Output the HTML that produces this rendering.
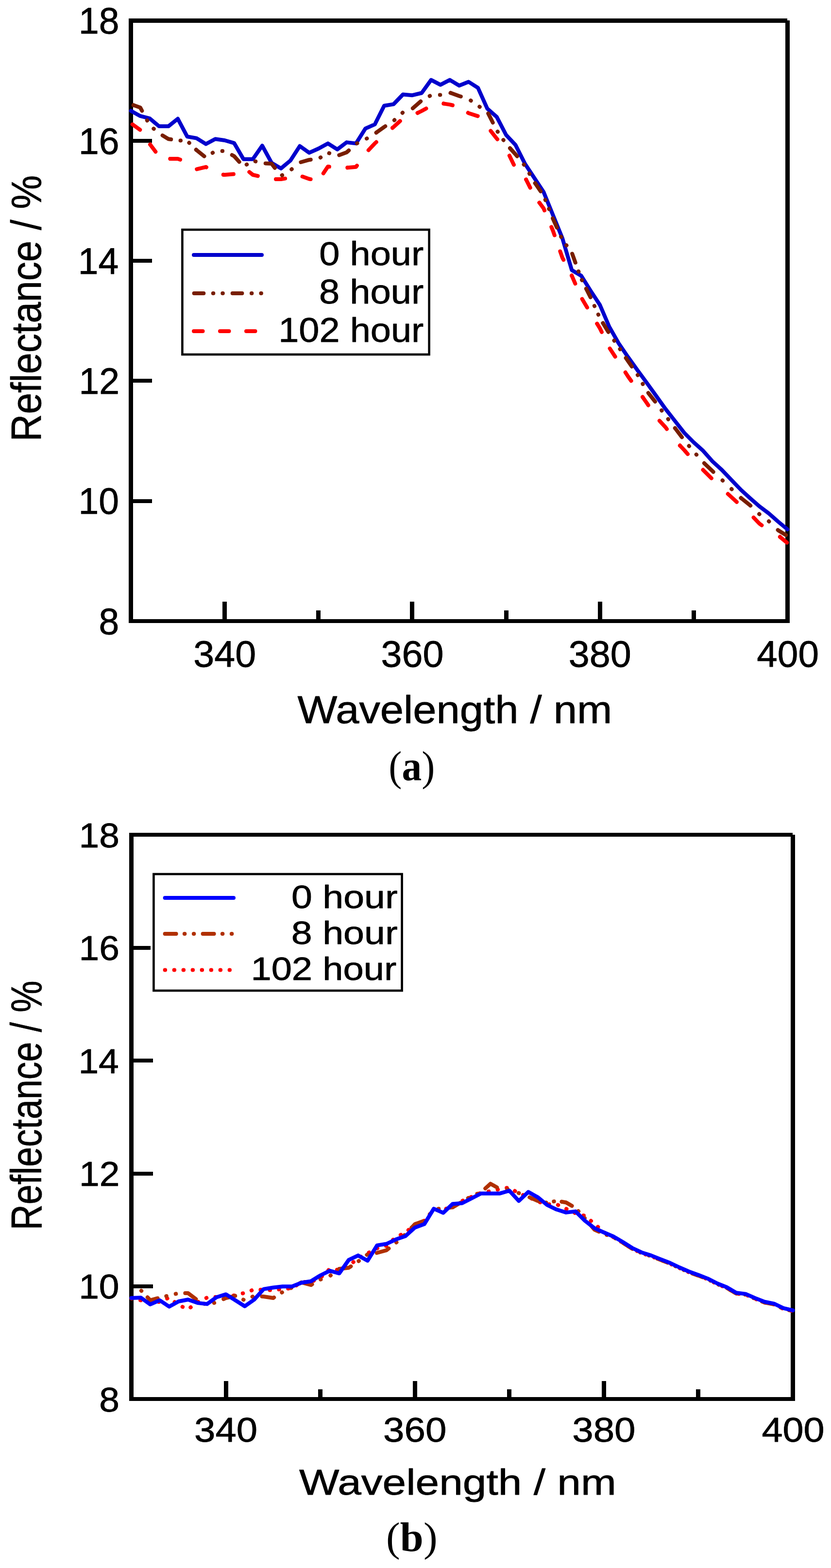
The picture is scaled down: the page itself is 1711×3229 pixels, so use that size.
<!DOCTYPE html><html><head><meta charset="utf-8"><title>Reflectance spectra</title><style>html,body{margin:0;padding:0;background:#fff;}svg{display:block;}text.s{stroke:#000;stroke-width:0.8px;stroke-linejoin:round;}</style></head><body>
<svg width="1711" height="3229" viewBox="0 0 1711 3229">
<rect width="1711" height="3229" fill="#fff"/>
<g fill="#000" shape-rendering="crispEdges">
<rect x="265" y="38" width="9" height="1245"/>
<rect x="265" y="38" width="1356" height="9"/>
<rect x="1617" y="42" width="9" height="1241"/>
<rect x="265" y="1275" width="1361" height="8"/>
<rect x="458.1" y="1239" width="9" height="36"/>
<rect x="844.4" y="1239" width="9" height="36"/>
<rect x="1230.7" y="1239" width="9" height="36"/>
<rect x="651.3" y="1257" width="9" height="18"/>
<rect x="1037.6" y="1257" width="9" height="18"/>
<rect x="1423.9" y="1257" width="9" height="18"/>
<rect x="274" y="1027.7" width="39" height="8"/>
<rect x="274" y="780.4" width="39" height="8"/>
<rect x="274" y="533.1" width="39" height="8"/>
<rect x="274" y="285.8" width="39" height="8"/>
</g>
<rect x="375.4" y="473.0" width="508.2" height="257.0" fill="none" stroke="#000" stroke-width="4.6"/>
<text class="s" transform="translate(161.94,69.20) scale(0.9972,1)" font-size="75.21" font-family='"Liberation Sans", Arial, sans-serif'>18</text>
<text class="s" transform="translate(161.94,316.50) scale(0.9972,1)" font-size="75.21" font-family='"Liberation Sans", Arial, sans-serif'>16</text>
<text class="s" transform="translate(160.81,563.80) scale(0.9972,1)" font-size="75.21" font-family='"Liberation Sans", Arial, sans-serif'>14</text>
<text class="s" transform="translate(162.50,811.10) scale(0.9972,1)" font-size="75.21" font-family='"Liberation Sans", Arial, sans-serif'>12</text>
<text class="s" transform="translate(161.56,1058.40) scale(0.9972,1)" font-size="75.21" font-family='"Liberation Sans", Arial, sans-serif'>10</text>
<text class="s" transform="translate(203.56,1305.70) scale(0.9972,1)" font-size="75.21" font-family='"Liberation Sans", Arial, sans-serif'>8</text>
<text class="s" transform="translate(398.25,1372.50) scale(1.0231,1)" font-size="75.49" font-family='"Liberation Sans", Arial, sans-serif'>340</text>
<text class="s" transform="translate(784.53,1372.50) scale(1.0231,1)" font-size="75.49" font-family='"Liberation Sans", Arial, sans-serif'>360</text>
<text class="s" transform="translate(1170.82,1372.50) scale(1.0231,1)" font-size="75.49" font-family='"Liberation Sans", Arial, sans-serif'>380</text>
<text class="s" transform="translate(1558.28,1372.50) scale(1.0136,1)" font-size="75.49" font-family='"Liberation Sans", Arial, sans-serif'>400</text>
<text class="s" transform="translate(612.47,1488.80) scale(1.0831,1)" font-size="80.14" font-family='"Liberation Sans", Arial, sans-serif'>Wavelength / nm</text>
<text class="s" transform="translate(84.40,909.16) rotate(-90) scale(0.8924,1)" font-size="87.75" font-family='"Liberation Sans", Arial, sans-serif'>Reflectance / %</text>
<text class="s" transform="translate(657.16,545.60) scale(1.0953,1)" font-size="69.30" font-family='"Liberation Sans", Arial, sans-serif'>0 hour</text>
<text class="s" transform="translate(656.97,624.90) scale(1.0787,1)" font-size="70.42" font-family='"Liberation Sans", Arial, sans-serif'>8 hour</text>
<text class="s" transform="translate(573.22,703.90) scale(1.0760,1)" font-size="70.42" font-family='"Liberation Sans", Arial, sans-serif'>102 hour</text>
<path d="M269.5,228.2 L288.8,238.9 L308.1,243.8 L327.4,260.0 L346.8,260.0 L366.1,244.6 L385.4,281.2 L404.7,284.6 L424.0,296.6 L443.3,286.2 L462.6,289.0 L482.0,294.6 L501.3,327.7 L520.6,327.7 L539.9,300.0 L559.2,335.4 L578.5,346.9 L597.8,330.8 L617.2,300.8 L636.5,314.6 L655.8,306.0 L675.1,295.4 L694.4,307.7 L713.7,293.1 L733.0,295.4 L752.4,264.6 L771.7,256.2 L791.0,217.7 L810.3,214.6 L829.6,194.6 L848.9,196.2 L868.2,191.5 L887.6,164.6 L906.9,174.6 L926.2,164.6 L945.5,176.2 L964.8,168.5 L984.1,180.8 L1003.4,223.8 L1022.8,240.8 L1042.1,278.0 L1061.4,298.5 L1080.7,336.9 L1100.0,366.2 L1119.3,395.4 L1138.6,443.1 L1158.0,490.8 L1177.3,556.2 L1196.6,567.7 L1215.9,598.5 L1235.2,628.0 L1254.5,673.0 L1273.8,707.0 L1293.2,735.4 L1312.5,762.3 L1331.8,788.5 L1351.1,815.4 L1370.4,842.3 L1389.7,866.9 L1409.0,891.5 L1428.4,911.0 L1447.7,928.3 L1467.0,950.1 L1486.3,967.8 L1505.6,988.0 L1524.9,1008.1 L1544.2,1025.8 L1563.6,1042.8 L1582.9,1057.3 L1602.2,1074.2 L1621.5,1090.3" fill="none" stroke="#0000cc" stroke-width="8" stroke-linecap="round" stroke-linejoin="round"/>
<g fill="none" stroke="#ff0000" stroke-width="8" stroke-linecap="round" stroke-linejoin="round">
<path d="M269.5,253.8 L272.7,256.1" stroke-dasharray="18.50 35.50" stroke-dashoffset="50.00"/>
<path d="M272.7,256.1 L288.8,267.7 L308.1,296.2 L309.2,297.6" stroke-dasharray="19.18 36.81" stroke-dashoffset="0.00"/>
<path d="M309.2,297.6 L327.4,322.0 L346.8,327.0 L350.5,327.0" stroke-dasharray="18.55 35.59" stroke-dashoffset="0.00"/>
<path d="M350.5,327.0 L366.1,327.0 L385.4,334.0 L404.7,348.5 L405.2,348.4" stroke-dasharray="20.84 40.00" stroke-dashoffset="0.00"/>
<path d="M405.2,348.4 L424.0,343.8 L443.3,358.0 L459.9,359.7" stroke-dasharray="20.52 39.38" stroke-dashoffset="0.00"/>
<path d="M459.9,359.7 L462.6,360.0 L482.0,358.5 L501.3,344.6 L513.3,354.2" stroke-dasharray="21.04 40.37" stroke-dashoffset="0.00"/>
<path d="M513.3,354.2 L520.6,360.0 L539.9,364.6 L559.2,369.0 L568.2,369.0" stroke-dasharray="19.84 38.07" stroke-dashoffset="0.00"/>
<path d="M568.2,369.0 L578.5,369.0 L597.8,366.0 L617.2,361.5 L622.6,363.5" stroke-dasharray="19.02 36.50" stroke-dashoffset="0.00"/>
<path d="M622.6,363.5 L636.5,368.5 L655.8,372.0 L665.8,357.0" stroke-dasharray="17.96 34.46" stroke-dashoffset="0.00"/>
<path d="M665.8,357.0 L675.1,343.0 L694.4,345.0 L713.7,345.4 L715.5,345.3" stroke-dasharray="19.62 37.66" stroke-dashoffset="0.00"/>
<path d="M715.5,345.3 L733.0,343.8 L752.4,316.0 L758.7,309.2" stroke-dasharray="20.83 39.96" stroke-dashoffset="0.00"/>
<path d="M758.7,309.2 L771.7,295.4 L791.0,278.0 L808.2,263.3" stroke-dasharray="23.14 44.40" stroke-dashoffset="0.00"/>
<path d="M808.2,263.3 L810.3,261.5 L829.6,244.0 L848.9,237.7 L859.7,232.6" stroke-dasharray="20.92 40.14" stroke-dashoffset="0.00"/>
<path d="M859.7,232.6 L868.2,228.5 L887.6,218.0 L906.9,212.3 L913.5,213.4" stroke-dasharray="19.98 38.33" stroke-dashoffset="0.00"/>
<path d="M913.5,213.4 L926.2,215.4 L945.5,220.0 L963.7,232.3" stroke-dasharray="18.73 35.94" stroke-dashoffset="0.00"/>
<path d="M963.7,232.3 L964.8,233.0 L984.1,239.2 L1003.4,260.8 L1010.3,269.5" stroke-dasharray="21.15 40.58" stroke-dashoffset="0.00"/>
<path d="M1010.3,269.5 L1022.8,285.4 L1042.1,306.2 L1048.9,320.5" stroke-dasharray="22.08 42.37" stroke-dashoffset="0.00"/>
<path d="M1048.9,320.5 L1061.4,346.5 L1080.7,364.6 L1083.2,369.7" stroke-dasharray="20.87 40.04" stroke-dashoffset="0.00"/>
<path d="M1083.2,369.7 L1100.0,403.0 L1110.6,417.4" stroke-dasharray="18.90 36.26" stroke-dashoffset="0.00"/>
<path d="M1110.6,417.4 L1119.3,429.2 L1135.3,467.4" stroke-dasharray="19.22 36.89" stroke-dashoffset="0.00"/>
<path d="M1135.3,467.4 L1138.6,475.4 L1153.3,517.5" stroke-dasharray="18.26 35.05" stroke-dashoffset="0.00"/>
<path d="M1153.3,517.5 L1158.0,530.8 L1177.2,567.6" stroke-dasharray="19.03 36.52" stroke-dashoffset="0.00"/>
<path d="M1177.2,567.6 L1177.3,567.7 L1196.6,612.3 L1198.6,615.7" stroke-dasharray="18.06 34.65" stroke-dashoffset="0.00"/>
<path d="M1198.6,615.7 L1215.9,645.0 L1229.4,666.7" stroke-dasharray="20.41 39.17" stroke-dashoffset="0.00"/>
<path d="M1229.4,666.7 L1235.2,676.2 L1254.5,716.0 L1255.6,717.6" stroke-dasharray="19.63 37.68" stroke-dashoffset="0.00"/>
<path d="M1255.6,717.6 L1273.8,745.4 L1287.7,766.8" stroke-dasharray="20.13 38.62" stroke-dashoffset="0.00"/>
<path d="M1287.7,766.8 L1293.2,775.4 L1312.5,802.3 L1323.1,817.6" stroke-dasharray="21.21 40.70" stroke-dashoffset="0.00"/>
<path d="M1323.1,817.6 L1331.8,830.0 L1351.1,859.2 L1357.9,866.5" stroke-dasharray="20.62 39.56" stroke-dashoffset="0.00"/>
<path d="M1357.9,866.5 L1370.4,880.0 L1389.7,907.0 L1400.0,917.6" stroke-dasharray="22.71 43.58" stroke-dashoffset="0.00"/>
<path d="M1400.0,917.6 L1409.0,927.0 L1428.4,949.3 L1447.5,967.6" stroke-dasharray="23.65 45.38" stroke-dashoffset="0.00"/>
<path d="M1447.5,967.6 L1447.7,967.8 L1467.0,987.0 L1486.3,1005.7 L1498.7,1017.1" stroke-dasharray="24.42 46.86" stroke-dashoffset="0.00"/>
<path d="M1498.7,1017.1 L1505.6,1023.4 L1524.9,1041.0 L1544.2,1058.0 L1551.6,1065.7" stroke-dasharray="24.63 47.27" stroke-dashoffset="0.00"/>
<path d="M1551.6,1065.7 L1563.6,1078.2 L1582.9,1092.0 L1602.2,1102.4 L1606.0,1105.6" stroke-dasharray="23.26 44.63" stroke-dashoffset="0.00"/>
<path d="M1606.0,1105.6 L1621.5,1118.5" stroke-dasharray="18.50 35.50" stroke-dashoffset="0.00"/>
</g>
<g fill="none" stroke="#781e00" stroke-width="8" stroke-linecap="round" stroke-linejoin="round">
<path d="M269.5,214.6 L274.8,216.5" stroke-dasharray="19.70 19.50 0.50 19.00 0.50 19.90" stroke-dashoffset="73.50"/>
<path d="M274.8,216.5 L288.8,221.5 L308.1,257.7 L327.4,274.6 L334.6,278.9" stroke-dasharray="22.42 22.19 0.57 21.62 0.57 22.64" stroke-dashoffset="0.00"/>
<path d="M334.6,278.9 L346.8,286.2 L366.1,289.2 L385.4,290.0 L403.9,308.4" stroke-dasharray="19.69 19.49 0.50 18.99 0.50 19.89" stroke-dashoffset="0.00"/>
<path d="M403.9,308.4 L404.7,309.2 L424.0,324.6 L443.3,310.8 L462.6,311.0 L477.7,319.2" stroke-dasharray="21.43 21.21 0.54 20.67 0.54 21.65" stroke-dashoffset="0.00"/>
<path d="M477.7,319.2 L482.0,321.5 L501.3,343.0 L520.6,330.8 L539.9,336.2 L546.7,336.5" stroke-dasharray="20.79 20.58 0.53 20.05 0.53 21.00" stroke-dashoffset="0.00"/>
<path d="M546.7,336.5 L559.2,337.0 L578.5,362.3 L597.8,350.8 L617.2,334.6 L619.4,334.0" stroke-dasharray="23.51 23.27 0.60 22.67 0.60 23.75" stroke-dashoffset="0.00"/>
<path d="M619.4,334.0 L636.5,329.2 L655.8,327.0 L675.1,314.6 L694.4,320.8 L698.3,319.4" stroke-dasharray="21.06 20.85 0.53 20.31 0.53 21.27" stroke-dashoffset="0.00"/>
<path d="M698.3,319.4 L713.7,313.8 L733.0,296.2 L752.4,286.9 L771.7,275.4 L774.8,273.1" stroke-dasharray="22.48 22.25 0.57 21.68 0.57 22.71" stroke-dashoffset="0.00"/>
<path d="M774.8,273.1 L791.0,261.5 L810.3,248.9 L829.6,231.5 L848.9,224.0 L849.9,223.1" stroke-dasharray="22.67 22.44 0.58 21.87 0.58 22.90" stroke-dashoffset="0.00"/>
<path d="M849.9,223.1 L868.2,206.9 L887.6,196.2 L906.9,195.4 L926.2,190.8 L927.7,191.3" stroke-dasharray="21.75 21.53 0.55 20.97 0.55 21.97" stroke-dashoffset="0.00"/>
<path d="M927.7,191.3 L945.5,197.7 L964.8,203.8 L984.1,217.7 L1003.4,230.0 L1005.2,233.6" stroke-dasharray="22.39 22.17 0.57 21.60 0.57 22.62" stroke-dashoffset="0.00"/>
<path d="M1005.2,233.6 L1022.8,268.5 L1042.1,296.4 L1050.1,305.2" stroke-dasharray="21.14 20.92 0.54 20.38 0.54 21.35" stroke-dashoffset="0.00"/>
<path d="M1050.1,305.2 L1061.4,317.7 L1080.7,341.5 L1100.0,374.6 L1101.8,377.2" stroke-dasharray="22.15 21.93 0.56 21.36 0.56 22.38" stroke-dashoffset="0.00"/>
<path d="M1101.8,377.2 L1119.3,403.0 L1138.1,449.6" stroke-dasharray="20.29 20.08 0.51 19.57 0.51 20.50" stroke-dashoffset="0.00"/>
<path d="M1138.1,449.6 L1138.6,450.8 L1158.0,493.8 L1177.3,520.0 L1178.2,522.6" stroke-dasharray="20.88 20.67 0.53 20.14 0.53 21.09" stroke-dashoffset="0.00"/>
<path d="M1178.2,522.6 L1196.6,573.8 L1207.0,594.6" stroke-dasharray="19.32 19.13 0.49 18.64 0.49 19.52" stroke-dashoffset="0.00"/>
<path d="M1207.0,594.6 L1215.9,612.3 L1235.2,655.0 L1241.5,665.4" stroke-dasharray="19.63 19.43 0.50 18.93 0.50 19.83" stroke-dashoffset="0.00"/>
<path d="M1241.5,665.4 L1254.5,687.0 L1273.8,714.6 L1288.8,737.2" stroke-dasharray="21.42 21.21 0.54 20.66 0.54 21.64" stroke-dashoffset="0.00"/>
<path d="M1288.8,737.2 L1293.2,743.8 L1312.5,771.5 L1331.8,805.4 L1334.8,809.2" stroke-dasharray="21.31 21.09 0.54 20.55 0.54 21.52" stroke-dashoffset="0.00"/>
<path d="M1334.8,809.2 L1351.1,830.0 L1370.4,856.2 L1389.7,881.5 L1389.9,881.7" stroke-dasharray="22.68 22.45 0.58 21.87 0.58 22.91" stroke-dashoffset="0.00"/>
<path d="M1389.9,881.7 L1409.0,906.9 L1428.4,930.0 L1447.7,951.7 L1449.9,953.8" stroke-dasharray="23.40 23.16 0.59 22.57 0.59 23.64" stroke-dashoffset="0.00"/>
<path d="M1449.9,953.8 L1467.0,970.2 L1486.3,988.0 L1505.6,1006.5 L1524.9,1025.0 L1525.7,1025.6" stroke-dasharray="25.98 25.72 0.66 25.06 0.66 26.25" stroke-dashoffset="0.00"/>
<path d="M1525.7,1025.6 L1544.2,1040.4 L1563.6,1058.9 L1582.9,1073.4 L1601.6,1091.4" stroke-dasharray="25.07 24.82 0.64 24.18 0.64 25.33" stroke-dashoffset="0.00"/>
<path d="M1601.6,1091.4 L1602.2,1092.0 L1621.5,1104.0" stroke-dasharray="19.70 19.50 0.50 19.00 0.50 19.90" stroke-dashoffset="0.00"/>
</g>
<path d="M399,525 L539,525" fill="none" stroke="#0000cc" stroke-width="8" stroke-linecap="round"/>
<path d="M399.6,604 L539,604" fill="none" stroke="#781e00" stroke-width="8" stroke-linecap="round" stroke-dasharray="19.7 19.5 0.5 19 0.5 19.9" stroke-dashoffset="0"/>
<path d="M399,682 L526,682" fill="none" stroke="#ff0000" stroke-width="8" stroke-linecap="round" stroke-dasharray="18.5 35.5" stroke-dashoffset="0"/>
<g fill="#000" shape-rendering="crispEdges">
<rect x="266" y="1715" width="9" height="1170"/>
<rect x="266" y="1715" width="1366" height="8"/>
<rect x="1628" y="1719" width="9" height="1166"/>
<rect x="266" y="2877" width="1371" height="8"/>
<rect x="460.6" y="2844" width="9" height="33"/>
<rect x="849.7" y="2844" width="9" height="33"/>
<rect x="1238.9" y="2844" width="9" height="33"/>
<rect x="655.1" y="2861" width="9" height="16"/>
<rect x="1044.3" y="2861" width="9" height="16"/>
<rect x="1433.4" y="2861" width="9" height="16"/>
<rect x="275" y="2645.0" width="40" height="8"/>
<rect x="275" y="2412.6" width="40" height="8"/>
<rect x="275" y="2180.3" width="40" height="8"/>
<rect x="275" y="1947.9" width="35" height="8"/>
</g>
<rect x="316.4" y="1800.0" width="511.2" height="240.0" fill="none" stroke="#000" stroke-width="4.6"/>
<text class="s" transform="translate(162.54,1744.90) scale(1.0524,1)" font-size="71.27" font-family='"Liberation Sans", Arial, sans-serif'>18</text>
<text class="s" transform="translate(162.54,1977.24) scale(1.0524,1)" font-size="71.27" font-family='"Liberation Sans", Arial, sans-serif'>16</text>
<text class="s" transform="translate(161.41,2209.58) scale(1.0524,1)" font-size="71.27" font-family='"Liberation Sans", Arial, sans-serif'>14</text>
<text class="s" transform="translate(163.10,2441.92) scale(1.0524,1)" font-size="71.27" font-family='"Liberation Sans", Arial, sans-serif'>12</text>
<text class="s" transform="translate(162.16,2674.26) scale(1.0524,1)" font-size="71.27" font-family='"Liberation Sans", Arial, sans-serif'>10</text>
<text class="s" transform="translate(204.16,2906.60) scale(1.0524,1)" font-size="71.27" font-family='"Liberation Sans", Arial, sans-serif'>8</text>
<text class="s" transform="translate(399.94,2968.60) scale(1.1159,1)" font-size="70.00" font-family='"Liberation Sans", Arial, sans-serif'>340</text>
<text class="s" transform="translate(789.08,2968.60) scale(1.1159,1)" font-size="70.00" font-family='"Liberation Sans", Arial, sans-serif'>360</text>
<text class="s" transform="translate(1178.23,2968.60) scale(1.1159,1)" font-size="70.00" font-family='"Liberation Sans", Arial, sans-serif'>380</text>
<text class="s" transform="translate(1568.56,2968.60) scale(1.1055,1)" font-size="70.00" font-family='"Liberation Sans", Arial, sans-serif'>400</text>
<text class="s" transform="translate(615.96,3077.80) scale(1.1758,1)" font-size="74.37" font-family='"Liberation Sans", Arial, sans-serif'>Wavelength / nm</text>
<text class="s" transform="translate(84.70,2533.15) rotate(-90) scale(0.8281,1)" font-size="88.59" font-family='"Liberation Sans", Arial, sans-serif'>Reflectance / %</text>
<text class="s" transform="translate(600.02,1869.60) scale(1.1552,1)" font-size="66.76" font-family='"Liberation Sans", Arial, sans-serif'>0 hour</text>
<text class="s" transform="translate(599.82,1943.90) scale(1.1611,1)" font-size="66.48" font-family='"Liberation Sans", Arial, sans-serif'>8 hour</text>
<text class="s" transform="translate(516.40,2017.60) scale(1.1450,1)" font-size="66.34" font-family='"Liberation Sans", Arial, sans-serif'>102 hour</text>
<path d="M270.5,2673.8 L290.0,2677.7 L309.4,2682.3 L328.9,2680.8 L348.3,2672.3 L367.8,2687.7 L387.2,2696.2 L406.7,2681.5 L426.2,2672.3 L445.6,2670.8 L465.1,2668.0 L484.5,2667.7 L504.0,2662.3 L523.4,2655.4 L542.9,2656.2 L562.4,2657.0 L581.8,2654.3 L601.3,2653.0 L620.7,2640.0 L640.2,2640.0 L659.6,2631.5 L679.1,2613.0 L698.6,2615.4 L718.0,2607.0 L737.5,2590.8 L756.9,2580.8 L776.4,2570.8 L795.8,2565.4 L815.3,2547.7 L834.8,2538.5 L854.2,2521.0 L873.7,2513.8 L893.1,2491.5 L912.6,2493.0 L932.0,2480.8 L951.5,2473.0 L971.0,2464.6 L990.4,2456.2 L1009.9,2453.0 L1029.3,2448.5 L1048.8,2445.4 L1068.2,2457.7 L1087.7,2464.6 L1107.2,2474.6 L1126.6,2480.0 L1146.1,2480.0 L1165.5,2489.2 L1185.0,2498.5 L1204.4,2503.8 L1223.9,2520.0 L1243.4,2537.7 L1262.8,2547.7 L1282.3,2559.2 L1301.7,2571.5 L1321.2,2580.7 L1340.6,2586.9 L1360.1,2594.6 L1379.6,2602.3 L1399.0,2611.5 L1418.5,2620.0 L1437.9,2626.9 L1457.4,2634.6 L1476.8,2644.5 L1496.3,2652.3 L1515.8,2663.8 L1535.2,2666.1 L1554.7,2674.6 L1574.1,2682.3 L1593.6,2686.1 L1613.0,2695.3 L1632.5,2700.0" fill="none" stroke="#ff0000" stroke-width="8" stroke-linecap="round" stroke-linejoin="round" stroke-dasharray="0.5 18.5" stroke-dashoffset="0"/>
<g fill="none" stroke="#b03000" stroke-width="8" stroke-linecap="round" stroke-linejoin="round">
<path d="M278.2,2649.7 L290.0,2657.0 L303.7,2671.6" stroke-dasharray="23.00 17.25 0.50 18.50 0.50 18.25" stroke-dashoffset="44.10"/>
<path d="M303.7,2671.6 L309.4,2677.7 L328.9,2672.3 L348.3,2667.7 L367.8,2663.0 L381.3,2663.0" stroke-dasharray="24.20 18.15 0.53 19.47 0.53 19.21" stroke-dashoffset="0.00"/>
<path d="M381.3,2663.0 L387.2,2663.0 L406.7,2677.7 L426.2,2687.7 L445.6,2681.5 L460.4,2675.1" stroke-dasharray="26.16 19.62 0.57 21.04 0.57 20.76" stroke-dashoffset="0.00"/>
<path d="M460.4,2675.1 L465.1,2673.0 L484.5,2668.5 L504.0,2677.7 L523.4,2668.5 L539.3,2669.7" stroke-dasharray="24.79 18.59 0.54 19.94 0.54 19.67" stroke-dashoffset="0.00"/>
<path d="M539.3,2669.7 L542.9,2670.0 L562.4,2673.0 L581.8,2660.8 L601.3,2651.5 L617.5,2642.6" stroke-dasharray="25.45 19.08 0.55 20.47 0.55 20.19" stroke-dashoffset="0.00"/>
<path d="M617.5,2642.6 L620.7,2640.8 L640.2,2646.2 L659.6,2635.0 L679.1,2627.7 L697.8,2613.6" stroke-dasharray="26.70 20.02 0.58 21.47 0.58 21.18" stroke-dashoffset="0.00"/>
<path d="M697.8,2613.6 L698.6,2613.0 L718.0,2610.8 L737.5,2597.7 L756.9,2583.0 L775.8,2580.1" stroke-dasharray="25.82 19.36 0.56 20.77 0.56 20.49" stroke-dashoffset="0.00"/>
<path d="M775.8,2580.1 L776.4,2580.0 L795.8,2574.6 L815.3,2559.2 L834.8,2541.5 L847.4,2528.2" stroke-dasharray="26.60 19.95 0.58 21.40 0.58 21.11" stroke-dashoffset="0.00"/>
<path d="M847.4,2528.2 L854.2,2521.0 L873.7,2513.8 L893.1,2490.8 L912.6,2487.7 L925.0,2486.7" stroke-dasharray="27.40 20.55 0.60 22.04 0.60 21.74" stroke-dashoffset="0.00"/>
<path d="M925.0,2486.7 L932.0,2486.2 L951.5,2474.6 L971.0,2463.0 L990.4,2455.4 L999.2,2447.4" stroke-dasharray="25.12 18.84 0.55 20.21 0.55 19.93" stroke-dashoffset="0.00"/>
<path d="M999.2,2447.4 L1009.9,2437.7 L1029.3,2448.5 L1048.8,2449.5 L1068.2,2456.9 L1087.7,2464.6 L1090.3,2465.7" stroke-dasharray="29.71 22.28 0.65 23.90 0.65 23.57" stroke-dashoffset="0.00"/>
<path d="M1090.3,2465.7 L1107.2,2473.0 L1126.6,2477.0 L1146.1,2473.0 L1156.6,2474.7" stroke-dasharray="20.26 15.19 0.44 16.30 0.44 16.08" stroke-dashoffset="0.00"/>
<path d="M1156.6,2474.7 L1165.5,2476.2 L1185.0,2487.7 L1204.4,2509.0 L1223.9,2532.3 L1243.4,2541.0 L1262.8,2547.7 L1282.3,2559.2 L1301.7,2571.5 L1321.2,2580.7 L1340.6,2586.9 L1360.1,2594.6 L1379.6,2602.3 L1399.0,2611.5 L1418.5,2620.0 L1437.9,2626.9 L1457.4,2634.6 L1476.8,2644.5 L1496.3,2652.3 L1515.8,2663.8 L1535.2,2666.1 L1554.7,2674.6 L1574.1,2682.3 L1593.6,2686.1 L1613.0,2695.3 L1632.5,2700.0" stroke-dasharray="23.00 17.25 0.50 18.50 0.50 18.25" stroke-dashoffset="0.00"/>
</g>
<path d="M270.5,2673.1 L290.0,2672.3 L309.4,2686.2 L328.9,2677.7 L348.3,2690.8 L367.8,2680.0 L387.2,2676.2 L406.7,2683.1 L426.2,2685.4 L445.6,2671.5 L465.1,2665.4 L484.5,2677.7 L504.0,2690.0 L523.4,2676.2 L542.9,2654.6 L562.4,2651.5 L581.8,2649.2 L601.3,2649.2 L620.7,2641.5 L640.2,2638.5 L659.6,2626.5 L679.1,2616.9 L698.6,2622.3 L718.0,2594.6 L737.5,2585.4 L756.9,2596.2 L776.4,2564.6 L795.8,2561.5 L815.3,2552.3 L834.8,2545.4 L854.2,2528.0 L873.7,2520.8 L893.1,2489.2 L912.6,2497.7 L932.0,2479.2 L951.5,2477.7 L971.0,2467.7 L990.4,2457.7 L1009.9,2457.7 L1029.3,2457.7 L1048.8,2452.0 L1068.2,2473.1 L1087.7,2454.6 L1107.2,2465.4 L1126.6,2481.5 L1146.1,2490.8 L1165.5,2496.9 L1185.0,2494.6 L1204.4,2513.8 L1223.9,2529.2 L1243.4,2538.0 L1262.8,2546.2 L1282.3,2557.7 L1301.7,2570.0 L1321.2,2579.2 L1340.6,2585.4 L1360.1,2593.1 L1379.6,2600.8 L1399.0,2610.0 L1418.5,2618.5 L1437.9,2625.4 L1457.4,2633.1 L1476.8,2643.0 L1496.3,2650.8 L1515.8,2662.3 L1535.2,2664.6 L1554.7,2673.1 L1574.1,2680.8 L1593.6,2684.6 L1613.0,2693.8 L1632.5,2698.5" fill="none" stroke="#0000ff" stroke-width="8" stroke-linecap="round" stroke-linejoin="round"/>
<path d="M339.6,1849 L481,1849" fill="none" stroke="#0000ff" stroke-width="8" stroke-linecap="round"/>
<path d="M339.6,1923 L480,1923" fill="none" stroke="#b03000" stroke-width="8" stroke-linecap="round" stroke-dasharray="23 17.25 0.5 18.5 0.5 18.25" stroke-dashoffset="0"/>
<path d="M339.6,1997.5 L473,1997.5" fill="none" stroke="#ff0000" stroke-width="8" stroke-linecap="round" stroke-dasharray="0.5 18.5" stroke-dashoffset="0"/>
<text transform="translate(800.33,1606.74) scale(0.9476,1)" font-size="85.95" font-family='"Liberation Serif", "Times New Roman", serif'>(<tspan font-weight="bold">a</tspan>)</text>
<text transform="translate(795.12,3194.45) scale(1.0108,1)" font-size="85.40" font-family='"Liberation Serif", "Times New Roman", serif'>(<tspan font-weight="bold">b</tspan>)</text>
</svg></body></html>
